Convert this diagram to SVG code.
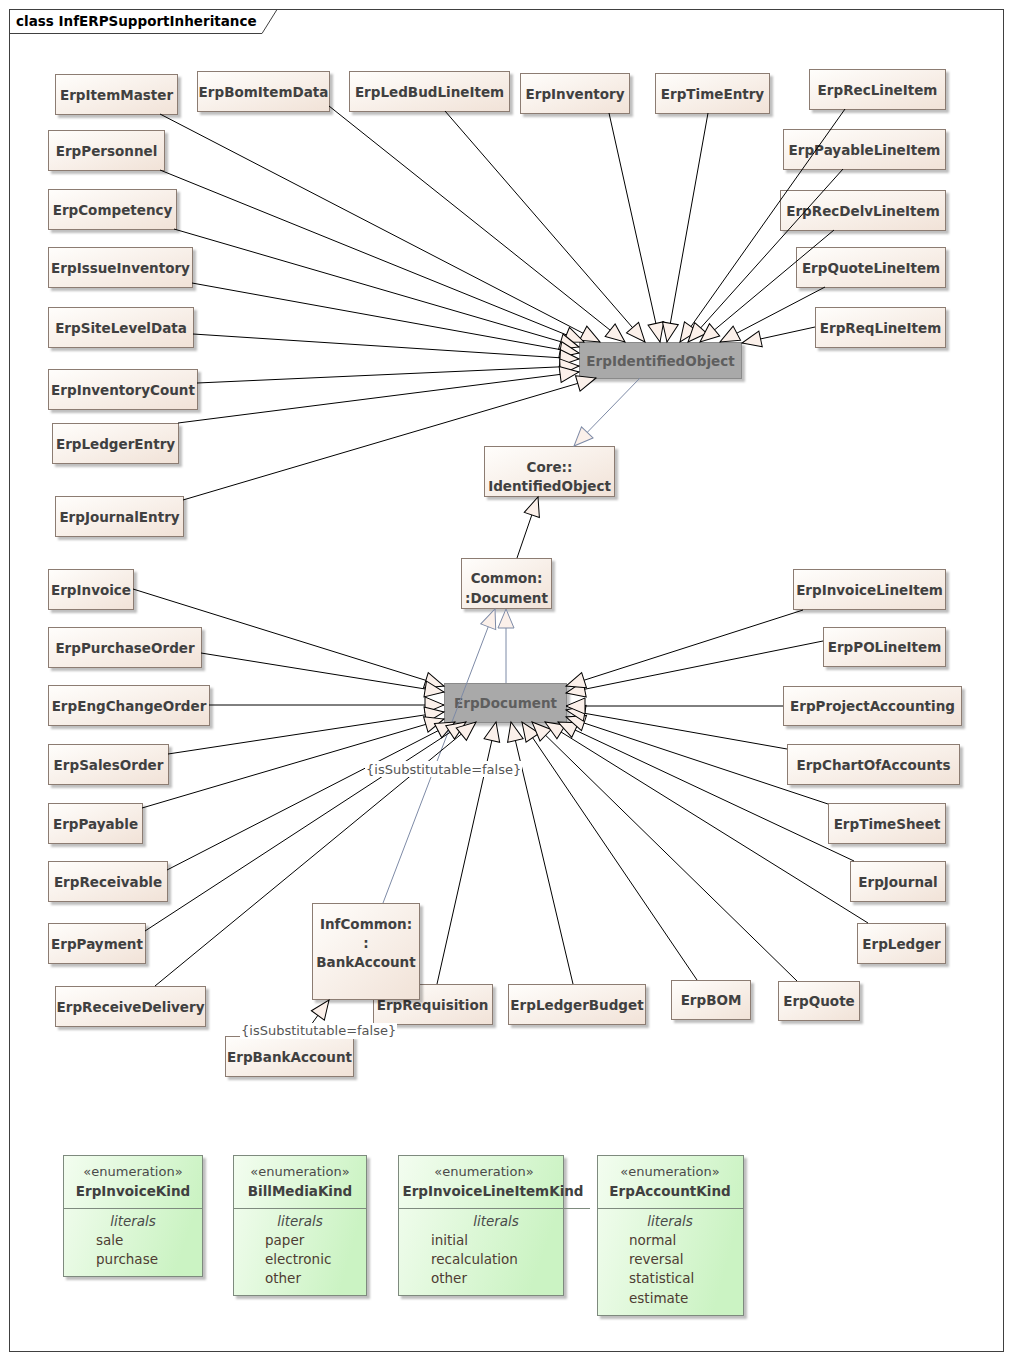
<svg xmlns="http://www.w3.org/2000/svg" width="1013" height="1361" viewBox="0 0 1013 1361">
  <style>
    .frame { fill: #ffffff; stroke: #404040; stroke-width: 1; }
    .title { font-family: "DejaVu Sans", sans-serif; font-weight: bold; font-size: 13.5px; fill: #000000; }
    .cls { fill: url(#clsFill); stroke: #8c7b72; stroke-width: 1; filter: url(#shadow); }
    .hub { fill: #a9a9a9; stroke: #8a8a8a; stroke-width: 1; filter: url(#shadow); }
    .enum { fill: url(#enumFill); stroke: #7e8a7e; stroke-width: 1; filter: url(#shadow); }
    .name { font-family: "DejaVu Sans", sans-serif; font-weight: bold; font-size: 13.5px; fill: #404040; text-anchor: middle; }
    .hubname { font-family: "DejaVu Sans", sans-serif; font-weight: bold; font-size: 13.5px; fill: #5e5e5e; text-anchor: middle; }
    .stereo { font-family: "DejaVu Sans", sans-serif; font-size: 13px; fill: #4a4a4a; text-anchor: middle; }
    .lit { font-family: "DejaVu Sans", sans-serif; font-style: italic; font-size: 13.5px; fill: #4a4a4a; text-anchor: middle; }
    .item { font-family: "DejaVu Sans", sans-serif; font-size: 13.5px; fill: #4e3c32; }
    .div { stroke: #7e8a7e; stroke-width: 1; }
    .gen { stroke: #000000; stroke-width: 1; fill: none; marker-end: url(#tri); }
    .genb { stroke: #7d8aa6; stroke-width: 1; fill: none; marker-end: url(#triB); }
    .note { font-family: "DejaVu Sans", sans-serif; font-size: 13px; fill: #555555; }
    .noteBg { fill: #ffffff; }
  </style>
  <defs>
    <linearGradient id="clsFill" x1="0" y1="0" x2="1" y2="1">
      <stop offset="0" stop-color="#fffefc"/>
      <stop offset="1" stop-color="#f1e2d7"/>
    </linearGradient>
    <linearGradient id="enumFill" x1="0" y1="0" x2="1" y2="0.3">
      <stop offset="0" stop-color="#f3fdf0"/>
      <stop offset="1" stop-color="#cbf3c3"/>
    </linearGradient>
    <filter id="shadow" x="-10%" y="-10%" width="130%" height="140%">
      <feDropShadow dx="3" dy="3" stdDeviation="1.2" flood-color="#000000" flood-opacity="0.25"/>
    </filter>
    <!-- hollow generalization heads -->
    <marker id="tri" viewBox="-2 -2 23 20" refX="19" refY="8" markerWidth="23" markerHeight="20" markerUnits="userSpaceOnUse" orient="auto">
      <path d="M0,0 L19,8 L0,16 Z" fill="#fbf0ea" stroke="#000000" stroke-width="1"/>
    </marker>
    <marker id="triB" viewBox="-2 -2 23 20" refX="19" refY="8" markerWidth="23" markerHeight="20" markerUnits="userSpaceOnUse" orient="auto">
      <path d="M0,0 L19,8 L0,16 Z" fill="#fbf0ea" stroke="#7d8aa6" stroke-width="1"/>
    </marker>
  </defs>

  <rect x="0" y="0" width="1013" height="1361" fill="#ffffff"/>

  <!-- diagram frame -->
  <g id="frame">
    <rect class="frame" x="9.5" y="9.5" width="994" height="1342"/>
    <path d="M9.5,33.5 H262 L277,9.5" fill="none" stroke="#404040" stroke-width="1"/>
    <text class="title" x="16" y="26">class InfERPSupportInheritance</text>
  </g>

  <!-- classes around ErpIdentifiedObject -->
  <g id="ErpItemMaster"><rect class="cls" x="55.5" y="74.5" width="122" height="40"/><text class="name" x="116.5" y="99.5">ErpItemMaster</text></g>
  <g id="ErpBomItemData"><rect class="cls" x="197.5" y="71.5" width="132" height="40"/><text class="name" x="263.5" y="96.5">ErpBomItemData</text></g>
  <g id="ErpLedBudLineItem"><rect class="cls" x="349.5" y="71.5" width="160" height="40"/><text class="name" x="429.5" y="96.5">ErpLedBudLineItem</text></g>
  <g id="ErpInventory"><rect class="cls" x="520.5" y="73.5" width="109" height="40"/><text class="name" x="575" y="98.5">ErpInventory</text></g>
  <g id="ErpTimeEntry"><rect class="cls" x="655.5" y="73.5" width="114" height="40"/><text class="name" x="712.5" y="98.5">ErpTimeEntry</text></g>
  <g id="ErpRecLineItem"><rect class="cls" x="809.5" y="69.5" width="136" height="40"/><text class="name" x="877.5" y="94.5">ErpRecLineItem</text></g>
  <g id="ErpPayableLineItem"><rect class="cls" x="783.5" y="129.5" width="162" height="40"/><text class="name" x="864.5" y="154.5">ErpPayableLineItem</text></g>
  <g id="ErpRecDelvLineItem"><rect class="cls" x="780.5" y="190.5" width="165" height="40"/><text class="name" x="863" y="215.5">ErpRecDelvLineItem</text></g>
  <g id="ErpQuoteLineItem"><rect class="cls" x="796.5" y="247.5" width="149" height="40"/><text class="name" x="871" y="272.5">ErpQuoteLineItem</text></g>
  <g id="ErpReqLineItem"><rect class="cls" x="815.5" y="307.5" width="130" height="40"/><text class="name" x="880.5" y="332.5">ErpReqLineItem</text></g>
  <g id="ErpPersonnel"><rect class="cls" x="48.5" y="130.5" width="116" height="40"/><text class="name" x="106.5" y="155.5">ErpPersonnel</text></g>
  <g id="ErpCompetency"><rect class="cls" x="48.5" y="189.5" width="128" height="40"/><text class="name" x="112.5" y="214.5">ErpCompetency</text></g>
  <g id="ErpIssueInventory"><rect class="cls" x="48.5" y="247.5" width="144" height="40"/><text class="name" x="120.5" y="272.5">ErpIssueInventory</text></g>
  <g id="ErpSiteLevelData"><rect class="cls" x="48.5" y="307.5" width="145" height="40"/><text class="name" x="121" y="332.5">ErpSiteLevelData</text></g>
  <g id="ErpInventoryCount"><rect class="cls" x="48.5" y="369.5" width="149" height="40"/><text class="name" x="123" y="394.5">ErpInventoryCount</text></g>
  <g id="ErpLedgerEntry"><rect class="cls" x="52.5" y="423.5" width="126" height="40"/><text class="name" x="115.5" y="448.5">ErpLedgerEntry</text></g>
  <g id="ErpJournalEntry"><rect class="cls" x="55.5" y="496.5" width="128" height="40"/><text class="name" x="119.5" y="521.5">ErpJournalEntry</text></g>

  <g id="ErpIdentifiedObject"><rect class="hub" x="579.5" y="342.5" width="162" height="36"/><text class="hubname" x="660.5" y="365.5">ErpIdentifiedObject</text></g>
  <g id="Core_IdentifiedObject"><rect class="cls" x="484.5" y="446.5" width="130" height="50"/><text class="name" x="549.5" y="472">Core::</text><text class="name" x="549.5" y="491">IdentifiedObject</text></g>
  <g id="Common_Document"><rect class="cls" x="461.5" y="558.5" width="90" height="50"/><text class="name" x="506.5" y="583">Common:</text><text class="name" x="506.5" y="603">:Document</text></g>
  <g id="ErpDocument"><rect class="hub" x="444.5" y="683.5" width="122" height="39"/><text class="hubname" x="505.5" y="708">ErpDocument</text></g>

  <!-- classes around ErpDocument -->
  <g id="ErpInvoice"><rect class="cls" x="48.5" y="569.5" width="85" height="40"/><text class="name" x="91" y="594.5">ErpInvoice</text></g>
  <g id="ErpPurchaseOrder"><rect class="cls" x="48.5" y="627.5" width="153" height="40"/><text class="name" x="125" y="652.5">ErpPurchaseOrder</text></g>
  <g id="ErpEngChangeOrder"><rect class="cls" x="48.5" y="685.5" width="161" height="40"/><text class="name" x="129" y="710.5">ErpEngChangeOrder</text></g>
  <g id="ErpSalesOrder"><rect class="cls" x="48.5" y="744.5" width="120" height="40"/><text class="name" x="108.5" y="769.5">ErpSalesOrder</text></g>
  <g id="ErpPayable"><rect class="cls" x="48.5" y="803.5" width="94" height="40"/><text class="name" x="95.5" y="828.5">ErpPayable</text></g>
  <g id="ErpReceivable"><rect class="cls" x="48.5" y="861.5" width="119" height="40"/><text class="name" x="108" y="886.5">ErpReceivable</text></g>
  <g id="ErpPayment"><rect class="cls" x="48.5" y="923.5" width="97" height="40"/><text class="name" x="97" y="948.5">ErpPayment</text></g>
  <g id="ErpReceiveDelivery"><rect class="cls" x="55.5" y="986.5" width="150" height="40"/><text class="name" x="130.5" y="1011.5">ErpReceiveDelivery</text></g>

  <g id="ErpInvoiceLineItem"><rect class="cls" x="793.5" y="569.5" width="152" height="40"/><text class="name" x="869.5" y="594.5">ErpInvoiceLineItem</text></g>
  <g id="ErpPOLineItem"><rect class="cls" x="823.5" y="627.5" width="122" height="39"/><text class="name" x="884.5" y="652">ErpPOLineItem</text></g>
  <g id="ErpProjectAccounting"><rect class="cls" x="783.5" y="686.5" width="178" height="39"/><text class="name" x="872.5" y="711">ErpProjectAccounting</text></g>
  <g id="ErpChartOfAccounts"><rect class="cls" x="787.5" y="744.5" width="172" height="40"/><text class="name" x="873.5" y="769.5">ErpChartOfAccounts</text></g>
  <g id="ErpTimeSheet"><rect class="cls" x="828.5" y="803.5" width="117" height="40"/><text class="name" x="887" y="828.5">ErpTimeSheet</text></g>
  <g id="ErpJournal"><rect class="cls" x="850.5" y="861.5" width="95" height="40"/><text class="name" x="898" y="886.5">ErpJournal</text></g>
  <g id="ErpLedger"><rect class="cls" x="857.5" y="923.5" width="88" height="40"/><text class="name" x="901.5" y="948.5">ErpLedger</text></g>
  <g id="ErpQuote"><rect class="cls" x="778.5" y="981.5" width="81" height="39"/><text class="name" x="819" y="1006">ErpQuote</text></g>
  <g id="ErpBOM"><rect class="cls" x="671.5" y="980.5" width="79" height="39"/><text class="name" x="711" y="1005">ErpBOM</text></g>
  <g id="ErpLedgerBudget"><rect class="cls" x="508.5" y="984.5" width="137" height="40"/><text class="name" x="577" y="1009.5">ErpLedgerBudget</text></g>
  <g id="ErpRequisition"><rect class="cls" x="373.5" y="984.5" width="119" height="40"/><text class="name" x="432.5" y="1009.5">ErpRequisition</text></g>
  <g id="InfCommon_BankAccount"><rect class="cls" x="312.5" y="903.5" width="107" height="96"/><text class="name" x="366" y="929">InfCommon:</text><text class="name" x="366" y="948">:</text><text class="name" x="366" y="967">BankAccount</text></g>
  <g id="ErpBankAccount"><rect class="cls" x="225.5" y="1036.5" width="128" height="40"/><text class="name" x="289.5" y="1061.5">ErpBankAccount</text></g>

  <!-- generalization connectors -->
  <g id="connectors">
    <!-- into ErpIdentifiedObject -->
    <line class="gen" x1="160" y1="114" x2="600" y2="342"/>
    <line class="gen" x1="329" y1="106" x2="625" y2="342"/>
    <line class="gen" x1="445" y1="111" x2="645" y2="342"/>
    <line class="gen" x1="609" y1="113" x2="660" y2="342"/>
    <line class="gen" x1="708" y1="113" x2="667" y2="342"/>
    <line class="gen" x1="845" y1="109" x2="680" y2="342"/>
    <line class="gen" x1="843" y1="169" x2="688" y2="342"/>
    <line class="gen" x1="834" y1="230" x2="700" y2="342"/>
    <line class="gen" x1="825" y1="287" x2="720" y2="342"/>
    <line class="gen" x1="815" y1="327" x2="742" y2="343"/>
    <line class="gen" x1="160" y1="170" x2="584" y2="342"/>
    <line class="gen" x1="174" y1="229" x2="579" y2="347"/>
    <line class="gen" x1="192" y1="283" x2="579" y2="353"/>
    <line class="gen" x1="193" y1="334" x2="579" y2="359"/>
    <line class="gen" x1="197" y1="383" x2="579" y2="366"/>
    <line class="gen" x1="178" y1="423" x2="579" y2="372"/>
    <line class="gen" x1="183" y1="500" x2="596" y2="378"/>
    <!-- hierarchy spine -->
    <line class="genb" x1="640" y1="378" x2="574" y2="446"/>
    <line class="gen" x1="517" y1="558" x2="538" y2="497"/>
    <line class="genb" x1="506" y1="683" x2="506" y2="609"/>
    <line class="genb" x1="383" y1="903" x2="495" y2="609"/>
    <line class="gen" x1="303" y1="1036" x2="329" y2="1000"/>
    <!-- into ErpDocument -->
    <line class="gen" x1="133" y1="589" x2="444" y2="686"/>
    <line class="gen" x1="201" y1="653" x2="444" y2="692"/>
    <line class="gen" x1="209" y1="705" x2="444" y2="705"/>
    <line class="gen" x1="168" y1="754" x2="444" y2="712"/>
    <line class="gen" x1="142" y1="808" x2="444" y2="719"/>
    <line class="gen" x1="167" y1="870" x2="455" y2="722"/>
    <line class="gen" x1="145" y1="931" x2="466" y2="722"/>
    <line class="gen" x1="155" y1="986" x2="476" y2="722"/>
    <line class="gen" x1="437" y1="984" x2="496" y2="722"/>
    <line class="gen" x1="573" y1="984" x2="511" y2="722"/>
    <line class="gen" x1="697" y1="980" x2="522" y2="722"/>
    <line class="gen" x1="797" y1="981" x2="532" y2="722"/>
    <line class="gen" x1="868" y1="923" x2="545" y2="722"/>
    <line class="gen" x1="854" y1="861" x2="558" y2="722"/>
    <line class="gen" x1="828" y1="804" x2="566" y2="717"/>
    <line class="gen" x1="787" y1="749" x2="566" y2="710"/>
    <line class="gen" x1="783" y1="706" x2="566" y2="706"/>
    <line class="gen" x1="823" y1="641" x2="566" y2="693"/>
    <line class="gen" x1="803" y1="610" x2="566" y2="686"/>
    <!-- constraint labels -->
    <rect class="noteBg" x="365" y="761" width="157" height="16"/>
    <text class="note" x="366" y="774">{isSubstitutable=false}</text>
    <rect class="noteBg" x="240" y="1023" width="157" height="16"/>
    <text class="note" x="241" y="1035">{isSubstitutable=false}</text>
  </g>

  <!-- enumerations -->
  <g id="ErpInvoiceKind">
    <rect class="enum" x="63.5" y="1155.5" width="139" height="121"/>
    <line class="div" x1="63.5" y1="1208.5" x2="202.5" y2="1208.5"/>
    <text class="stereo" x="133" y="1176">«enumeration»</text>
    <text class="name" x="133" y="1196">ErpInvoiceKind</text>
    <text class="lit" x="133" y="1226">literals</text>
    <text class="item" x="96" y="1245">sale</text>
    <text class="item" x="96" y="1264">purchase</text>
  </g>
  <g id="BillMediaKind">
    <rect class="enum" x="233.5" y="1155.5" width="133" height="140"/>
    <line class="div" x1="233.5" y1="1208.5" x2="366.5" y2="1208.5"/>
    <text class="stereo" x="300" y="1176">«enumeration»</text>
    <text class="name" x="300" y="1196">BillMediaKind</text>
    <text class="lit" x="300" y="1226">literals</text>
    <text class="item" x="265" y="1245">paper</text>
    <text class="item" x="265" y="1264">electronic</text>
    <text class="item" x="265" y="1283">other</text>
  </g>
  <g id="ErpInvoiceLineItemKind">
    <rect class="enum" x="398.5" y="1155.5" width="165" height="140"/>
    <line class="div" x1="398.5" y1="1208.5" x2="590" y2="1208.5"/>
    <text class="stereo" x="484" y="1176">«enumeration»</text>
    <text class="name" x="493" y="1196">ErpInvoiceLineItemKind</text>
    <text class="lit" x="496" y="1226">literals</text>
    <text class="item" x="431" y="1245">initial</text>
    <text class="item" x="431" y="1264">recalculation</text>
    <text class="item" x="431" y="1283">other</text>
  </g>
  <g id="ErpAccountKind">
    <rect class="enum" x="597.5" y="1155.5" width="146" height="160"/>
    <line class="div" x1="597.5" y1="1208.5" x2="743.5" y2="1208.5"/>
    <text class="stereo" x="670" y="1176">«enumeration»</text>
    <text class="name" x="670" y="1196">ErpAccountKind</text>
    <text class="lit" x="670" y="1226">literals</text>
    <text class="item" x="629" y="1245">normal</text>
    <text class="item" x="629" y="1264">reversal</text>
    <text class="item" x="629" y="1283">statistical</text>
    <text class="item" x="629" y="1303">estimate</text>
  </g>
</svg>
